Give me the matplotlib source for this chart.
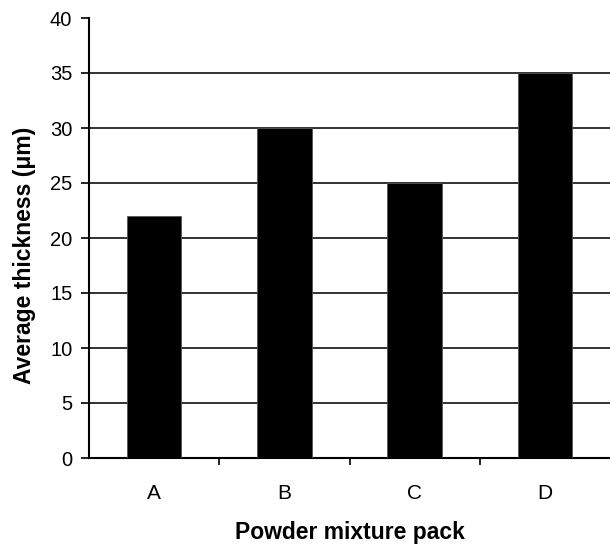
import matplotlib
matplotlib.use("Agg")
import matplotlib.pyplot as plt
import numpy as np

packs = ["A", "B", "C", "D"]
espesor = [22, 30, 25, 35]
yticks = [0, 5, 10, 15, 20, 25, 30, 35, 40]

plt.rcParams.update({"font.family": ["Liberation Sans", "DejaVu Sans"], "font.size": 14})

fig = plt.figure(figsize=(6.10, 5.47), dpi=100)
ax = fig.add_axes([89 / 610, 1 - 458 / 547, 1 - 89 / 610, (458 - 18) / 547])

x = np.arange(len(packs))
ax.bar(x, espesor, width=0.42, color="black", edgecolor="#555555", linewidth=0.6, zorder=3)

ax.set_xlim(-0.5, 3.5)
ax.set_ylim(0, 40)
ax.set_yticks(yticks)
for v in yticks[1:-1]:
    ax.axhline(v, color="#222222", lw=1.3, zorder=1)

ax.set_xticks(x, labels=packs)
ax.set_xticks(np.arange(0.5, 3.5, 1), minor=True)
ax.tick_params(axis="x", which="major", length=0, pad=19, labelsize=15)
ax.tick_params(axis="x", which="minor", length=5, width=1.2, direction="out")
ax.tick_params(axis="y", length=6, width=1.2, pad=6, labelsize=14.5)

for s in ["top", "right"]:
    ax.spines[s].set_visible(False)
ax.spines["left"].set_linewidth(1.5)
ax.spines["bottom"].set_linewidth(1.5)

ax.set_ylabel("Average thickness (μm)", fontweight="bold", fontsize=16.5)
ax.yaxis.set_label_coords(-0.101, 0.46)
ax.set_xlabel("Powder mixture pack", fontweight="bold", fontsize=16.5, labelpad=13)

fig.savefig("out.png", dpi=100)
